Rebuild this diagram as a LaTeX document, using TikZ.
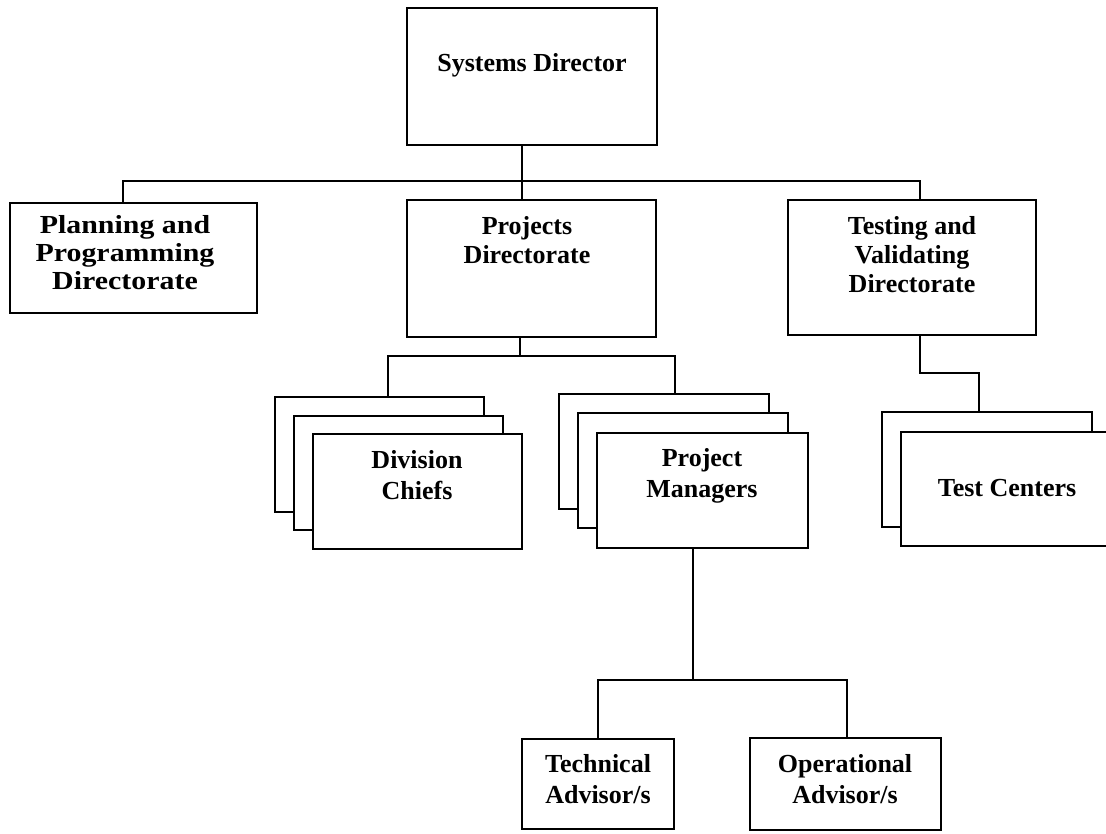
\documentclass[tikz,border=0pt]{standalone}
\usepackage{fontspec}
\setmainfont{Liberation Serif}
\newfontfamily\wideserif[FakeStretch=1.15]{Liberation Serif}
\usetikzlibrary{fit}
\begin{document}
\begin{tikzpicture}[x=1pt,y=-1pt,
  box/.style={draw, line width=2pt, fill=white, inner sep=0pt},
  conn/.style={line width=1.8pt},
  lbl/.style={font=\fontsize{26}{29}\selectfont\bfseries, align=center, anchor=north, inner sep=0pt},
  lbllow/.style={lbl, font=\fontsize{26}{31}\selectfont\bfseries}]
\useasboundingbox (0,0) rectangle (1106,833);
\clip (0,0) rectangle (1106,833);
\fill[white] (0,0) rectangle (1106,833);

% top level
\node[box, fit={(407,8) (657,145)}] (sd) {};
\node[lbl] (sdt) at (532,53) {Systems Director};

% directorates
\node[box, fit={(10,203) (257,313)}] (plan) {};
\node[lbl, font=\wideserif\fontsize{26}{28}\selectfont\bfseries] (plant) at (125,215)
  {Planning and\\Programming\\Directorate};
\node[box, fit={(407,200) (656,337)}] (proj) {};
\node[lbl] (projt) at (527,216) {Projects\\Directorate};
\node[box, fit={(788,200) (1036,335)}] (test) {};
\node[lbl] (testt) at (912,216) {Testing and\\Validating\\Directorate};

% division chiefs (stack of three)
\node[box, fit={(275,397) (484,512)}] (dc1) {};
\node[box, fit={(294,416) (503,530)}] (dc2) {};
\node[box, fit={(313,434) (522,549)}] (dc3) {};
\node[lbllow] (dct) at (417,450) {Division\\Chiefs};

% project managers (stack of three)
\node[box, fit={(559,394) (769,509)}] (pm1) {};
\node[box, fit={(578,413) (788,528)}] (pm2) {};
\node[box, fit={(597,433) (808,548)}] (pm3) {};
\node[lbllow] (pmt) at (702,448) {Project\\Managers};

% test centers (stack of two)
\node[box, fit={(882,412) (1092,527)}] (tc1) {};
\node[box, fit={(901,432) (1113,546)}] (tc2) {};
\node[lbl] (tct) at (1007,479) {Test Centers};

% advisors
\node[box, fit={(522,739) (674,829)}] (tech) {};
\node[lbllow] (techt) at (598,754) {Technical\\Advisor/s};
\node[box, fit={(750,738) (941,830)}] (oper) {};
\node[lbllow] (opert) at (845,754) {Operational\\Advisor/s};

% connectors
\coordinate (busL) at (123,181);
\coordinate (busM) at (522,181);
\coordinate (busR) at (920,181);
\draw[conn] (sd.south -| busM) -- (proj.north -| busM);
\draw[conn] (plan.north -| busL) -- (busL) -- (busR) -- (test.north -| busR);

\coordinate (b2L) at (388,356);
\coordinate (b2M) at (520,356);
\coordinate (b2R) at (675,356);
\draw[conn] (proj.south -| b2M) -- (b2M);
\draw[conn] (dc1.north -| b2L) -- (b2L) -- (b2R) -- (pm1.north -| b2R);

\coordinate (tk1) at (920,373);
\coordinate (tk2) at (979,373);
\draw[conn] (test.south -| tk1) -- (tk1) -- (tk2) -- (tc1.north -| tk2);

\coordinate (b3L) at (598,680);
\coordinate (b3M) at (693,680);
\coordinate (b3R) at (847,680);
\draw[conn] (pm3.south -| b3M) -- (b3M);
\draw[conn] (tech.north -| b3L) -- (b3L) -- (b3R) -- (oper.north -| b3R);
\end{tikzpicture}
\end{document}
